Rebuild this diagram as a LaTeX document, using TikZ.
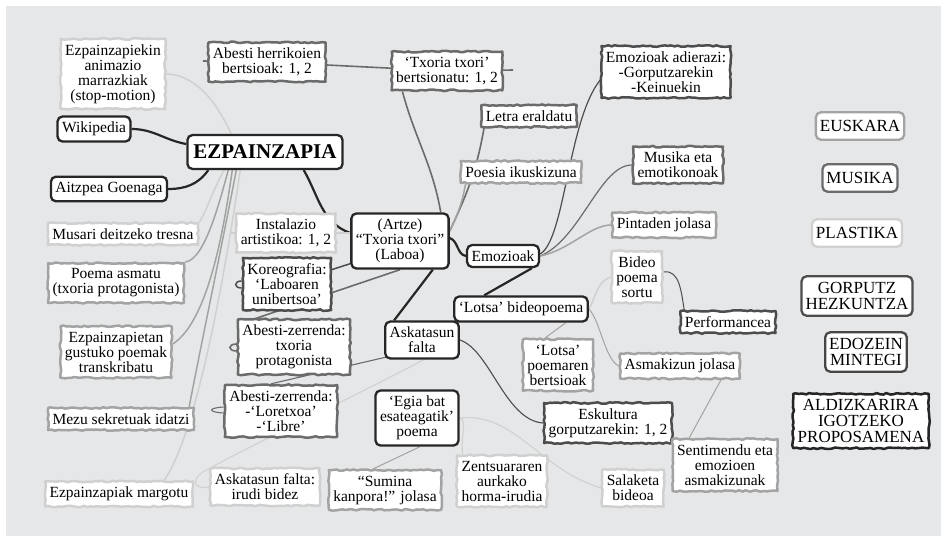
\documentclass[tikz,border=0pt]{standalone}
\usepackage{fontspec}
\setmainfont{Liberation Serif}
\usetikzlibrary{decorations.pathmorphing}
\pgfdeclarelayer{back}
\pgfdeclarelayer{lines}
\pgfsetlayers{back,lines,main}
\definecolor{bgGray}{HTML}{E6E7E8}
\definecolor{cEdo}{HTML}{262626}
\definecolor{cGor}{HTML}{4D4D4D}
\definecolor{cMus}{HTML}{6B6B6B}
\definecolor{cEus}{HTML}{A3A3A3}
\definecolor{cPla}{HTML}{D0D0D0}
\newcommand\myNF{\fontsize{15.5}{15}\selectfont}
\newcommand\myBF{\fontsize{21}{22}\selectfont\bfseries}
\newcommand\myLF{\fontsize{17}{16}\selectfont}
\tikzset{
  bx/.style={align=center, fill=white, inner xsep=4.5pt, inner ysep=5.5pt, line width=2.3pt, font=\myNF},
  rbx/.style={bx, rounded corners=5pt},
  wbx/.style={bx, decorate, decoration={random steps, segment length=3.5pt, amplitude=0.8pt}, line join=round, line width=2.5pt},
  legbx/.style={rbx, font=\myLF, inner xsep=4pt, inner ysep=8pt},
  edo/.style={draw=cEdo},
  gor/.style={draw=cGor},
  mus/.style={draw=cMus},
  eus/.style={draw=cEus},
  pla/.style={draw=cPla},
  edoL/.style={draw=cEdo, line width=2.2pt},
  gorL/.style={draw=cGor, line width=1.5pt},
  musL/.style={draw=cMus, line width=1.6pt},
  eusL/.style={draw=cEus, line width=1.5pt},
  plaL/.style={draw=cPla, line width=1.5pt},
  gorT/.style={draw=cGor, line width=1pt},
  musT/.style={draw=cMus, line width=1.1pt},
  eusT/.style={draw=cEus, line width=1pt},
  plaT/.style={draw=cPla, line width=1.1pt},
}
\begin{document}
\begin{tikzpicture}[x=1pt,y=-1pt]
\pgfmathsetseed{7}
\useasboundingbox (0,0) rectangle (947,541);
\begin{pgfonlayer}{back}
  \fill[bgGray] (6,6) rectangle (941,536);
\end{pgfonlayer}

% left column
\node[wbx,pla] (ezpk) at (113,74) {Ezpainzapiekin\\animazio\\marrazkiak\\(stop-motion)};
\node[rbx,edo] (wiki) at (94,129) {Wikipedia};
\node[rbx,edo,font=\myBF,inner xsep=6pt,inner ysep=10pt] (ezp) at (265,152) {EZPAINZAPIA};
\node[rbx,edo] (aitz) at (109,189) {Aitzpea Goenaga};
\node[wbx,pla] (musari) at (123,234) {Musari deitzeko tresna};
\node[wbx,eus] (poema) at (116,283) {Poema asmatu\\(txoria protagonista)};
\node[wbx,eus] (transk) at (116,352) {Ezpainzapietan\\gustuko poemak\\transkribatu};
\node[wbx,eus] (mezu) at (121,419) {Mezu sekretuak idatzi};
\node[wbx,pla] (margo) at (119,494) {Ezpainzapiak margotu};

% centre
\node[wbx,mus] (abh) at (267,62) {Abesti herrikoien\\bertsioak: 1, 2};
\node[wbx,mus] (txb) at (447,71) {‘Txoria txori’\\bertsionatu: 1, 2};
\node[wbx,gor] (ema) at (666,72) {Emozioak adierazi:\\-Gorputzarekin\\-Keinuekin};
\node[wbx,mus] (letra) at (529,116) {Letra eraldatu};
\node[wbx,eus] (poesia) at (521,172) {Poesia ikuskizuna};
\node[rbx,edo] (artze) at (400,241) {(Artze)\\“Txoria txori”\\(Laboa)};
\node[rbx,edo] (emoz) at (503,256) {Emozioak};
\node[wbx,pla] (inst) at (286,233) {Instalazio\\artistikoa: 1, 2};
\node[wbx,gor] (koreo) at (287,284) {Koreografia:\\‘Laboaren\\unibertsoa’};
\node[wbx,mus] (abztx) at (294,347) {Abesti-zerrenda:\\txoria\\protagonista};
\node[rbx,edo] (askat) at (422,340) {Askatasun\\falta};
\node[rbx,edo] (lotsa) at (521,309) {‘Lotsa’ bideopoema};
\node[wbx,mus] (lor) at (281,411) {Abesti-zerrenda:\\-‘Loretxoa’\\-‘Libre’};
\node[rbx,edo] (egia) at (417,418) {‘Egia bat\\esateagatik’\\poema};
\node[wbx,pla] (irudi) at (265,487) {Askatasun falta:\\irudi bidez};
\node[wbx,eus] (sumina) at (385,490) {“Sumina\\kanpora!” jolasa};
\node[wbx,pla] (zent) at (502,481) {Zentsuararen\\aurkako\\horma-irudia};
\node[wbx,eus] (lpb) at (558,365) {‘Lotsa’\\poemaren\\bertsioak};
\node[wbx,gor] (esk) at (608,423) {Eskultura\\gorputzarekin: 1, 2};
\node[wbx,pla] (sala) at (633,488) {Salaketa\\bideoa};
\node[wbx,mus] (musem) at (678,165) {Musika eta\\emotikonoak};
\node[wbx,eus] (pint) at (664,225) {Pintaden jolasa};
\node[wbx,pla] (bideo) at (637,277) {Bideo\\poema\\sortu};
\node[wbx,gor] (perf) at (728,322) {Performancea};
\node[wbx,eus] (asmak) at (680,366) {Asmakizun jolasa};
\node[wbx,eus] (sent) at (725,465) {Sentimendu eta\\emozioen\\asmakizunak};

% legend
\node[legbx,draw=cEus] (lgEus) at (860,126) {EUSKARA};
\node[legbx,draw=cMus] (lgMus) at (860,178) {MUSIKA};
\node[legbx,draw=cPla] (lgPla) at (857,233) {PLASTIKA};
\node[legbx,draw=cGor,inner ysep=6pt] (lgGor) at (857,296) {GORPUTZ\\HEZKUNTZA};
\node[legbx,draw=cEdo!85!white,inner ysep=6pt] (lgEdo) at (866,352) {EDOZEIN\\MINTEGI};
\node[wbx,draw=cEdo,font=\myLF] (lgAld) at (861,421) {ALDIZKARIRA\\IGOTZEKO\\PROPOSAMENA};

\coordinate (stubL) at (203,61);
\coordinate (stubR) at (513,70);
\coordinate (instL) at (231,233);

\begin{pgfonlayer}{lines}
% thick dark connectors
\draw[edoL] (wiki.east) to[out=0,in=170] ([yshift=8pt]ezp.west);
\draw[edoL] (aitz.east) to[out=0,in=235] ([xshift=22pt]ezp.south west);
\draw[edoL] ([xshift=-40pt]ezp.south east) to[out=-60,in=160] ([yshift=8pt]artze.west);
\draw[edoL] ([yshift=3pt]artze.east) to[out=-20,in=170] (emoz.west);
\draw[edoL] ([xshift=-17pt]artze.south east) -- ([xshift=10pt]askat.north west);
\draw[edoL] ([xshift=-8pt]emoz.south east) -- ([xshift=31pt]lotsa.north west);

% musika / bertsio line
\draw[musL] (stubL) -- (abh.center) -- (txb.center) -- (stubR);
\draw[musL] ([xshift=12pt]txb.south west) to[out=-75,in=100] ([xshift=-9pt]artze.north east);
\draw[musL] ([yshift=10pt]artze.east) to[out=65,in=260] ([xshift=4pt]letra.south west);
\draw[eusL] ([yshift=10pt]artze.east) to[out=65,in=260] ([xshift=6pt]poesia.south west);
\draw[plaL] (instL) -- (artze.west |- inst.center);

% Artze to koreografia and abesti-zerrenda
\draw[gorL] ([yshift=6pt]artze.south west) -- (koreo.center);
\draw[gorL] ([yshift=3pt]koreo.west) .. controls +(-8,0) and +(-8,0) .. ([yshift=-4pt]koreo.west);
\draw[musL] (artze.south) -- ([xshift=8pt,yshift=-4pt]abztx.north west);
\draw[musL] ([yshift=3pt]abztx.west) .. controls +(-9,0) and +(-9,0) .. ([yshift=-4pt]abztx.west);

% Emozioak fan
\draw[gorT,line width=1.2pt] ([yshift=2pt]emoz.east) .. controls (565,240) and (568,120) .. ([yshift=-8pt]ema.west);
\draw[musT,line width=1.2pt] (emoz.east) .. controls (580,240) and (600,165) .. (musem.west);
\draw[eusL] (emoz.east) .. controls (570,250) and (590,225) .. (pint.west);

% Lotsa fan
\draw[plaL] (lotsa.east) .. controls (595,300) and (596,282) .. (bideo.west);
\draw[eusT] (lotsa.east) .. controls (600,320) and (605,360) .. (asmak.west);
\draw[eusT] ([xshift=-23pt]lotsa.south east) -- ([xshift=-13pt]lpb.north);
\draw[gorT] ([yshift=5pt]bideo.east) to[out=10,in=100] ([xshift=5pt]perf.north west);
\draw[eusT] ([xshift=18pt]sent.north west) -- ([xshift=-20pt]asmak.south east);

% Askatasun fan
\draw[gorT,line width=1.1pt] (askat.east) .. controls (490,350) and (505,420) .. (esk.west);
\draw[musT] (askat.east) -- ([xshift=-10pt]lor.north);
\draw[musT] ([yshift=4pt]lor.west) .. controls +(-16,1) and +(-16,-1) .. ([yshift=-2pt]lor.west);
\draw[plaT] (askat.east) .. controls (380,385) and (250,445) .. (203,472) .. controls (190,480) and (195,490) .. (irudi.west);

% Egia fan
\draw[eusT] ([xshift=3pt]egia.south) -- ([xshift=-12pt]sumina.north);
\draw[plaT] (egia.east) .. controls (468,420) and (460,440) .. ([xshift=7pt]zent.north west);
\draw[plaT] (egia.east) .. controls (515,412) and (540,470) .. (sala.west);

% EZPAINZAPIA fan to the left column
\draw[plaL] (ezpk.east) .. controls (200,75) and (220,110) .. ([xshift=45pt]ezp.north west);
\draw[plaL] (musari.north east) .. controls (205,215) and (215,185) .. ([xshift=38pt]ezp.south west);
\draw[eusL] (poema.north east) .. controls (205,260) and (220,200) .. ([xshift=42pt]ezp.south west);
\draw[eusL] ([yshift=8pt]transk.east) .. controls (210,320) and (225,220) .. ([xshift=46pt]ezp.south west);
\draw[eusL] ([xshift=-6pt]mezu.north east) .. controls (200,350) and (225,230) .. ([xshift=50pt]ezp.south west);
\draw[plaL] ([xshift=-30pt]margo.north east) .. controls (200,430) and (230,240) .. ([xshift=54pt]ezp.south west);
\end{pgfonlayer}
\end{tikzpicture}
\end{document}
